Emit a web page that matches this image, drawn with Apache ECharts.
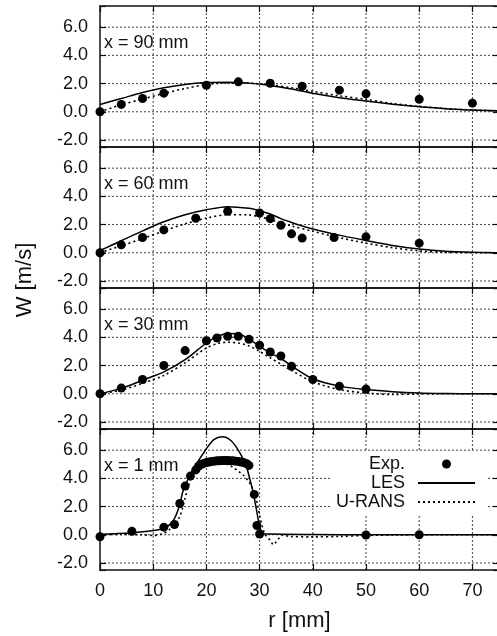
<!DOCTYPE html>
<html>
<head>
<meta charset="utf-8">
<script src="https://cdn.jsdelivr.net/npm/echarts@6/dist/echarts.min.js"></script>
<style>
  html, body { margin: 0; padding: 0; background: #fff; }
  #chart { width: 497px; height: 636px; }
</style>
</head>
<body>
<div id="chart"></div>
<script>
// Tick values
const rTicks = [0, 10, 20, 30, 40, 50, 60, 70];
const wTicks = [-2, 0, 2, 4, 6];
const stations = ['x = 90 mm', 'x = 60 mm', 'x = 30 mm', 'x = 1 mm'];
const seriesNames = ['Exp.', 'LES', 'U-RANS'];

// x = 90 mm  [r (mm), W (m/s)]
const exp90 = [[0,0],[4,0.52],[8,0.94],[12,1.32],[20,1.88],[26,2.12],[32,2.02],[38,1.81],[45,1.53],[50,1.27],[60,0.89],[70,0.61]];
const les90 = [[0,0.52],[4,0.94],[8,1.36],[12,1.7],[16,1.94],[20,2.07],[24,2.1],[28,2.03],[32,1.87],[36,1.62],[40,1.31],[45,1.0],[50,0.76],[55,0.53],[60,0.35],[65,0.22],[70,0.12],[75,0.07]];
const urans90 = [[0,0],[4,0.5],[8,0.9],[12,1.3],[16,1.65],[20,1.92],[24,2.05],[28,2.03],[32,1.9],[36,1.7],[40,1.45],[45,1.13],[50,0.88],[55,0.58],[60,0.38],[65,0.22],[70,0.12],[75,0.06]];

// x = 60 mm
const exp60 = [[0,0],[4,0.56],[8,1.08],[12,1.62],[18,2.45],[24,2.94],[30,2.82],[32,2.42],[34,1.95],[36,1.34],[38,1.04],[44,1.08],[50,1.13],[60,0.68]];
const les60 = [[0,0.15],[4,0.85],[8,1.55],[12,2.2],[16,2.7],[20,3.05],[24,3.27],[28,3.15],[30,2.98],[32,2.75],[34,2.42],[36,2.15],[38,1.9],[40,1.68],[44,1.32],[50,0.87],[55,0.52],[60,0.26],[65,0.1],[70,0.03],[75,0.0]];
const urans60 = [[0,0],[4,0.5],[8,1.0],[12,1.55],[16,2.05],[20,2.45],[24,2.7],[28,2.68],[30,2.55],[32,2.35],[36,1.9],[40,1.52],[44,1.15],[50,0.68],[55,0.36],[60,0.13],[65,0.03],[70,0.0],[75,0.0]];

// x = 30 mm
const exp30 = [[0,0],[4,0.4],[8,1.01],[12,2.0],[16,3.06],[20,3.76],[22,3.95],[24,4.07],[26,4.07],[28,3.86],[30,3.44],[32,2.96],[34,2.68],[36,1.95],[40,1.01],[45,0.54],[50,0.33]];
const les30 = [[0,0],[4,0.38],[8,0.96],[12,1.55],[16,2.42],[20,3.6],[22,4.05],[24,4.28],[26,4.26],[28,3.88],[30,3.36],[32,2.9],[34,2.5],[36,1.98],[40,1.06],[45,0.54],[50,0.3],[55,0.15],[60,0.06],[65,0.02],[70,0.0],[75,0.0]];
const urans30 = [[0,0],[4,0.25],[8,0.75],[12,1.3],[16,2.2],[20,3.25],[22,3.55],[24,3.65],[26,3.6],[28,3.4],[30,3.0],[32,2.55],[34,2.1],[36,1.65],[40,0.85],[45,0.3],[50,0.05],[55,-0.05],[60,-0.02],[65,0.0],[75,0.0]];

// x = 1 mm
const exp1 = [[0,-0.14],[6,0.24],[12,0.54],[14,0.73],[15,2.22],[16,3.45],[17,4.16],[18,4.6],[18.5,4.85],[19,4.98],[19.5,5.06],[20,5.12],[20.5,5.16],[21,5.2],[21.5,5.22],[22,5.24],[22.5,5.25],[23,5.26],[23.5,5.26],[24,5.26],[24.5,5.25],[25,5.24],[25.5,5.22],[26,5.2],[26.5,5.16],[27,5.12],[27.5,5.05],[28,4.92],[29,2.86],[29.5,0.66],[30,0.05],[50,-0.02],[60,0.0]];
const les1 = [[0,0.02],[3,0.08],[6,0.15],[9,0.25],[11,0.35],[12,0.45],[13,0.68],[14,1.15],[15,2.15],[15.6,3.1],[16.5,3.9],[17.4,4.6],[18.6,5.3],[19.9,6.05],[21.4,6.75],[23,6.95],[24.7,6.65],[26.3,5.8],[27.5,4.85],[28.2,3.9],[28.8,2.98],[29.4,1.8],[30,0.6],[30.6,0.1],[32,0.05],[40,0.02],[50,0.0],[60,0.0],[75,0.0]];
const urans1 = [[0,0],[4,0.02],[8,0.0],[10,-0.05],[12,0.1],[13,0.35],[14,0.7],[15,1.3],[15.5,1.9],[16,2.6],[16.5,3.3],[17,3.9],[18,4.6],[19,4.95],[20,5.08],[22,5.12],[23.5,5.05],[24.7,4.85],[26,4.5],[27,4.2],[28,3.75],[29,3.0],[29.5,2.3],[30,1.4],[30.5,0.6],[31,0.05],[32,-0.4],[32.6,-0.7],[33.5,-0.3],[34.5,0.0],[35.5,-0.12],[40,-0.15],[45,-0.12],[50,-0.05],[55,-0.02],[60,0.0],[75,0.0]];

const panelData = [
  { exp: exp90, les: les90, urans: urans90 },
  { exp: exp60, les: les60, urans: urans60 },
  { exp: exp30, les: les30, urans: urans30 },
  { exp: exp1,  les: les1,  urans: urans1 }
];

// Layout
const FONT = '"Liberation Sans", Arial, Helvetica, sans-serif';
const INK = '#111';
const PANEL_TOP = 6;
const PANEL_H = 141;
const R_MIN = 0, R_MAX = 75, R_STEP = 10;
const W_MIN = -2.5, W_MAX = 7.5;

const frameLine = { show: true, onZero: false, lineStyle: { color: INK, width: 1.5 } };
const innerTick = { show: true, inside: true, length: 6, lineStyle: { color: INK, width: 1.2 } };
const gridLineStyle = { color: '#000', width: 1, type: [2, 2], opacity: 0.75 };

// Reference grid segments at the tick values, spanning the full axis range
const vGridLines = rTicks.filter(v => v > R_MIN).map(v => [[v, W_MIN], [v, W_MAX]]);
const hGridLines = wTicks.map(v => [[R_MIN, v], [R_MAX, v]]);

const grids = [], xAxes = [], yAxes = [], series = [], graphics = [];

panelData.forEach((p, i) => {
  const top = PANEL_TOP + i * PANEL_H;
  const last = i === panelData.length - 1;
  grids.push({ left: 100, right: -2, top: top, height: PANEL_H, outerBoundsMode: 'none', containLabel: false });

  xAxes.push({
    gridIndex: i, type: 'value', position: 'bottom', min: R_MIN, max: R_MAX, interval: R_STEP,
    axisLine: frameLine, axisTick: innerTick, splitLine: { show: false },
    axisLabel: last ? { show: true, customValues: rTicks, margin: 12, fontSize: 18, fontFamily: FONT, color: INK } : { show: false },
    name: last ? 'r [mm]' : '', nameLocation: 'middle', nameGap: 40,
    nameTextStyle: { fontSize: 22, fontFamily: FONT, color: INK }
  });
  xAxes.push({
    gridIndex: i, type: 'value', position: 'top', min: R_MIN, max: R_MAX, interval: R_STEP,
    axisLine: frameLine, axisTick: innerTick, splitLine: { show: false }, axisLabel: { show: false }
  });
  yAxes.push({
    gridIndex: i, type: 'value', position: 'left', min: W_MIN, max: W_MAX, splitNumber: 5,
    axisLine: frameLine, axisTick: innerTick, splitLine: { show: false },
    axisLabel: { show: true, customValues: wTicks, margin: 12, fontSize: 18, fontFamily: FONT, color: INK,
                 formatter: (v) => Number(v).toFixed(1) }
  });
  yAxes.push({
    gridIndex: i, type: 'value', position: 'right', min: W_MIN, max: W_MAX, splitNumber: 5,
    axisLine: frameLine, axisTick: innerTick, splitLine: { show: false }, axisLabel: { show: false }
  });

  vGridLines.concat(hGridLines).forEach((seg, k) => {
    series.push({
      name: 'grid-' + i + '-' + k, type: 'line', xAxisIndex: 2 * i, yAxisIndex: 2 * i,
      data: seg, symbol: 'none', showSymbol: false, silent: true, z: 3,
      lineStyle: gridLineStyle, itemStyle: { color: '#000' }, emphasis: { disabled: true }
    });
  });

  series.push({
    name: seriesNames[0], type: 'scatter', xAxisIndex: 2 * i, yAxisIndex: 2 * i,
    data: p.exp, symbol: 'circle', symbolSize: 9, itemStyle: { color: '#000', opacity: 1 }, z: 5
  });
  series.push({
    name: seriesNames[1], type: 'line', xAxisIndex: 2 * i, yAxisIndex: 2 * i,
    data: p.les, symbol: 'none', showSymbol: false, smooth: 0.3,
    lineStyle: { color: '#000', width: 1.5 }, itemStyle: { color: '#000' }, z: 4
  });
  series.push({
    name: seriesNames[2], type: 'line', xAxisIndex: 2 * i, yAxisIndex: 2 * i,
    data: p.urans, symbol: 'none', showSymbol: false, smooth: 0.3,
    lineStyle: { color: '#000', width: 1.6, type: [2, 3] }, itemStyle: { color: '#000' }, z: 4
  });

  graphics.push({
    type: 'text', x: 104, y: top + 37, z: 10,
    style: { text: stations[i], fontSize: 18, fontFamily: FONT, fill: INK, verticalAlign: 'middle', align: 'left' }
  });
});

graphics.push({
  type: 'text', x: 25, y: 280, rotation: Math.PI / 2, z: 10,
  style: { text: 'W [m/s]', fontSize: 22, fontFamily: FONT, fill: INK, align: 'center', verticalAlign: 'middle' }
});

const chart = echarts.init(document.getElementById('chart'), null, { renderer: 'canvas' });
chart.setOption({
  animation: false,
  backgroundColor: '#fff',
  grid: grids,
  xAxis: xAxes,
  yAxis: yAxes,
  series: series,
  graphic: graphics,
  legend: {
    data: [
      { name: seriesNames[0], itemStyle: { color: '#000', opacity: 1 } },
      { name: seriesNames[1], itemStyle: { opacity: 0 } },
      { name: seriesNames[2], itemStyle: { opacity: 0 } }
    ],
    orient: 'vertical', align: 'right',
    right: 10, top: 452,
    itemWidth: 57, itemHeight: 9, itemGap: 1,
    padding: [3, 11, 3, 4],
    backgroundColor: '#fff',
    selectedMode: false,
    z: 20,
    textStyle: { fontSize: 18, fontFamily: FONT, color: INK, padding: [0, 8, 0, 0] }
  }
});
</script>
</body>
</html>
